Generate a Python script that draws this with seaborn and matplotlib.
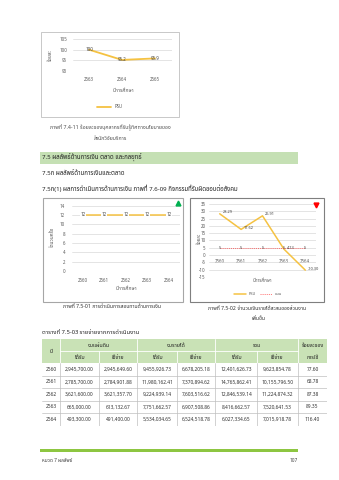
import matplotlib
matplotlib.use("Agg")
import matplotlib.pyplot as plt
import seaborn as sns
import numpy as np
import pandas as pd
from matplotlib.patches import Rectangle
from matplotlib.lines import Line2D
from matplotlib import font_manager
from matplotlib.ft2font import FT2Font

# ---------------- data ----------------
years1 = ["2563", "2564", "2565"]
psu1 = [100.0, 95.2, 95.9]
psu1_labels = ["100", "95.2", "95.9"]

years2 = ["2560", "2561", "2562", "2563", "2564"]
audit_counts = [12, 12, 12, 12, 12]

years3 = ["2560", "2561", "2562", "2563", "2564"]
psu3 = [28.29, 17.62, 26.91, 4.13, -10.30]
plan3 = [5, 5, 5, 5, 5]

tbl_years = ["2560", "2561", "2562", "2563", "2564"]
gov_recv = ["2,945,700.00", "2,785,700.00", "3,621,600.00", "665,000.00", "493,300.00"]
gov_spend = ["2,945,649.60", "2,784,901.88", "3,621,357.70", "613,132.67", "491,400.00"]
inc_recv = ["9,455,926.73", "11,980,162.41", "9,224,939.14", "7,751,662.57", "5,534,034.65"]
inc_spend = ["6,678,205.18", "7,370,894.62", "7,603,516.62", "6,907,508.86", "6,524,518.78"]
tot_recv = ["12,401,626.73", "14,765,862.41", "12,846,539.14", "8,416,662.57", "6,027,334.65"]
tot_spend = ["9,623,854.78", "10,155,796.50", "11,224,874.32", "7,520,641.53", "7,015,918.78"]
pct_used = ["77.60", "68.78", "87.38", "89.35", "116.40"]

# ---------------- fonts ----------------
sns.set_theme(style="white")
thai = None
cands = []
for f in font_manager.fontManager.ttflist:
    try:
        if 0x0E01 in FT2Font(f.fname).get_charmap():
            cands.append(f.name)
    except Exception:
        pass
for pref in ["Noto Sans Thai", "Noto Sans Thai UI", "Tlwg Typist", "Loma", "Garuda", "Sarabun"]:
    if pref in cands:
        thai = pref
        break
if thai is None and cands:
    sans = [c for c in cands if "Sans" in c]
    thai = (sans or cands)[0]
fams = ([thai] if thai else []) + ["DejaVu Sans"]
plt.rcParams["font.family"] = fams

W, H = 339, 480
fig = plt.figure(figsize=(W / 100, H / 100), dpi=100)
fig.patch.set_facecolor("white")

def rect(x0, y0, x1, y1):
    return [x0 / W, 1 - y1 / H, (x1 - x0) / W, (y1 - y0) / H]

def T(x, y, s, **kw):
    kw.setdefault("va", "center")
    return fig.text(x / W, 1 - y / H, s, **kw)

def T2(x, y, bold, rest, fs, color):
    t = T(x, y, bold, fontsize=fs, weight="bold", color=color)
    fig.add_artist(matplotlib.text.Annotation(rest, xy=(1, 0.5), xycoords=t, va="center",
                                              ha="left", fontsize=fs, color=color))

def box(x0, y0, x1, y1, **kw):
    fig.add_artist(Rectangle((x0 / W, 1 - y1 / H), (x1 - x0) / W, (y1 - y0) / H,
                             transform=fig.transFigure, **kw))

def marker(x, y, m, c, s):
    fig.add_artist(Line2D([x / W], [1 - y / H], marker=m, color=c, markersize=s,
                          linestyle="none", transform=fig.transFigure))

def style(ax, pad=2.5):
    for s in ax.spines.values():
        s.set_visible(False)
    ax.grid(axis="y", color="#d9d9d9", lw=0.5)
    ax.grid(axis="x", visible=False)
    ax.tick_params(length=0, labelsize=3.2, colors="#595959", pad=pad)
    ax.set_xlabel("")
    ax.set_ylabel("")
    ax.set_facecolor("none")

YEL = "#F5C242"

# ---------------- chart 1 ----------------
box(40.5, 32, 179, 117, fill=False, ec="#bfbfbf", lw=0.6)
ax1 = fig.add_axes(rect(72.5, 39, 171.5, 71))
x1 = list(range(len(years1)))
sns.lineplot(x=x1, y=psu1, ax=ax1, color=YEL, linewidth=1.3, legend=False)
ax1.set_ylim(90, 105)
ax1.set_yticks([90, 95, 100, 105])
ax1.set_xlim(-0.5, len(years1) - 0.5)
ax1.set_xticks(x1, years1)
style(ax1, pad=4)
for xi, v, lab in zip(x1, psu1, psu1_labels):
    ax1.text(xi, v, lab, ha="center", va="center", fontsize=3.2, color="#404040")
T(50, 55, "ร้อยละ", fontsize=3.4, color="#595959", rotation=90, ha="center")
T(123, 90, "ปีการศึกษา", fontsize=3.6, color="#595959", ha="center")
fig.legend(handles=[Line2D([], [], color=YEL, lw=1.3, label="PSU")], loc="center",
           bbox_to_anchor=(110 / W, 1 - 107 / H), frameon=False, fontsize=3.2,
           handlelength=3, labelcolor="#595959")
T(110, 128, "ภาพที่ 7.4-11 ร้อยละของบุคลากรที่รับรู้ทิศทางนโยบายของ", fontsize=3.8,
  color="#505050", ha="center", style="italic")
T(110, 139, "สำนักวิจัยบริการ", fontsize=3.8, color="#505050", ha="center", style="italic")

# ---------------- section headings ----------------
box(40, 152, 298, 164, color="#c5e0b4", lw=0)
T(41.5, 158, "7.5 ผลลัพธ์ด้านการเงิน ตลาด และกลยุทธ์", fontsize=4.4, weight="bold", color="#222222")
T(41.5, 173, "7.5ก ผลลัพธ์ด้านการเงินและตลาด", fontsize=4.4, weight="bold", color="#222222")
T(41.5, 188, "7.5ก(1) ผลการดำเนินการด้านการเงิน ภาพที่ 7.6-09 กิจกรรมที่รับผิดชอบต่อสังคม",
  fontsize=4.4, weight="bold", color="#222222")

# ---------------- chart 2 ----------------
box(43, 198, 183, 302, fill=False, ec="#a6a6a6", lw=0.8)
ax2 = fig.add_axes(rect(72, 205.5, 179.5, 271))
x2 = list(range(len(years2)))
sns.lineplot(x=x2, y=audit_counts, ax=ax2, color=YEL, linewidth=1.1, legend=False)
ax2.set_ylim(0, 14)
ax2.set_yticks(range(0, 15, 2))
ax2.set_xlim(-0.5, len(years2) - 0.5)
ax2.set_xticks(x2, years2)
style(ax2, pad=5)
for xi, v in zip(x2, audit_counts):
    ax2.text(xi, v, str(v), ha="center", va="center", fontsize=3.2, color="#404040",
             bbox=dict(boxstyle="square,pad=0.1", fc="white", ec="none"))
marker(178, 203, "^", "#00b050", 3.5)
T(52, 237, "จำนวนครั้ง", fontsize=3.4, color="#595959", rotation=90, ha="center")
T(126, 289, "ปีการศึกษา", fontsize=3.6, color="#595959", ha="center")
T2(63, 307, "ภาพที่ 7.5-01", " การดำเนินการสอบทานด้านการเงิน", 3.7, "#333333")

# ---------------- chart 3 ----------------
box(190, 198, 324, 302, fill=False, ec="#7f7f7f", lw=0.8)
ax3 = fig.add_axes(rect(209, 204, 316, 277))
x3 = list(range(len(years3)))
sns.lineplot(x=x3, y=psu3, ax=ax3, color=YEL, linewidth=1.1, legend=False)
sns.lineplot(x=x3, y=plan3, ax=ax3, color="#ff4040", linewidth=0.5, legend=False,
             linestyle=(0, (1.5, 1.5)))
ax3.set_ylim(-15, 35)
ax3.set_yticks(range(-15, 36, 5))
ax3.set_xlim(-0.5, len(years3) - 0.5)
ax3.set_xticks(x3, years3)
style(ax3, pad=2.5)
ax3.spines["bottom"].set_position(("data", 0))
for xi, v in zip(x3, psu3):
    ax3.annotate(f"{v:.2f}", (xi, v), xytext=(2, 1), textcoords="offset points",
                 ha="left", va="center", fontsize=2.8, color="#404040")
for xi, v in zip(x3, plan3):
    ax3.text(xi, v, str(v), ha="center", va="center", fontsize=2.8, color="#404040")
marker(316, 205, "v", "#ff0000", 3.5)
T(199, 238, "ร้อยละ", fontsize=3.2, color="#595959", rotation=90, ha="center")
T(262, 281, "ปีการศึกษา", fontsize=3.2, color="#595959", ha="center")
fig.legend(handles=[Line2D([], [], color=YEL, lw=1.1, label="PSU"),
                    Line2D([], [], color="#ff4040", lw=0.5, linestyle=(0, (1.5, 1.5)), label="แผน")],
           loc="center", bbox_to_anchor=(258 / W, 1 - 294 / H), frameon=False, fontsize=2.8,
           handlelength=3, ncol=2, columnspacing=1.0, labelcolor="#595959")
T2(208, 308, "ภาพที่ 7.5-02", " จำนวนเงินรายได้สะสมของส่วนงาน", 3.7, "#333333")
T(258, 319, "เพิ่มขึ้น", fontsize=3.7, color="#333333", ha="center")

# ---------------- table ----------------
T2(42, 333, "ตารางที่ 7.5-03", " รายจ่ายจากการดำเนินงาน", 4.2, "#222222")
edges = [42, 60, 99, 137, 177, 215, 257, 298, 327]
top, hmid, hbot = 339, 351, 363
rowh = 12.5
nrows = len(tbl_years)
bottom = hbot + rowh * nrows
axt = fig.add_axes(rect(edges[0], top, edges[-1], bottom))
axt.set_xlim(edges[0], edges[-1])
axt.set_ylim(bottom, top)
axt.axis("off")
HG = "#c9e2b6"
axt.add_patch(Rectangle((edges[0], top), edges[-1] - edges[0], hbot - top, color=HG, lw=0))
for xe in [60, 137, 215, 298]:
    axt.plot([xe, xe], [top, hbot], color="white", lw=0.6)
for xe in [99, 177, 257]:
    axt.plot([xe, xe], [hmid, hbot], color="white", lw=0.6)
axt.plot([60, 298], [hmid, hmid], color="white", lw=0.6)
hfs = 3.8
axt.text((42 + 60) / 2, (top + hbot) / 2, "ปี", ha="center", va="center", fontsize=hfs, color="#222")
for (a, b), lab in zip([(60, 137), (137, 215), (215, 298)], ["งบแผ่นดิน", "งบรายได้", "รวม"]):
    axt.text((a + b) / 2, (top + hmid) / 2, lab, ha="center", va="center", fontsize=hfs, color="#222")
for j in range(6):
    a, b = edges[j + 1], edges[j + 2]
    axt.text((a + b) / 2, (hmid + hbot) / 2, "ได้รับ" if j % 2 == 0 else "ใช้จ่าย",
             ha="center", va="center", fontsize=hfs, color="#222")
axt.text((298 + 327) / 2, (top + hmid) / 2, "ร้อยละของ", ha="center", va="center", fontsize=hfs, color="#222")
axt.text((298 + 327) / 2, (hmid + hbot) / 2, "การใช้", ha="center", va="center", fontsize=hfs, color="#222")
cols = [tbl_years, gov_recv, gov_spend, inc_recv, inc_spend, tot_recv, tot_spend, pct_used]
for i in range(nrows):
    yc = hbot + rowh * (i + 0.5)
    for j, col in enumerate(cols):
        axt.text((edges[j] + edges[j + 1]) / 2, yc, col[i], ha="center", va="center",
                 fontsize=3.5, color="#333333")
    axt.plot([edges[0], edges[-1]], [hbot + rowh * (i + 1)] * 2, color="#bfbfbf", lw=0.5)
for xe in edges[1:-1]:
    axt.plot([xe, xe], [hbot, bottom], color="#bfbfbf", lw=0.5)

# ---------------- footer ----------------
box(40, 449, 298, 452, color="#8dc641", lw=0)
T(42, 460, "หมวด 7 ผลลัพธ์", fontsize=3.4, color="#404040")
T(298, 460, "107", fontsize=3.4, color="#404040", ha="right")

fig.savefig("out.png", dpi=100, facecolor="white")
